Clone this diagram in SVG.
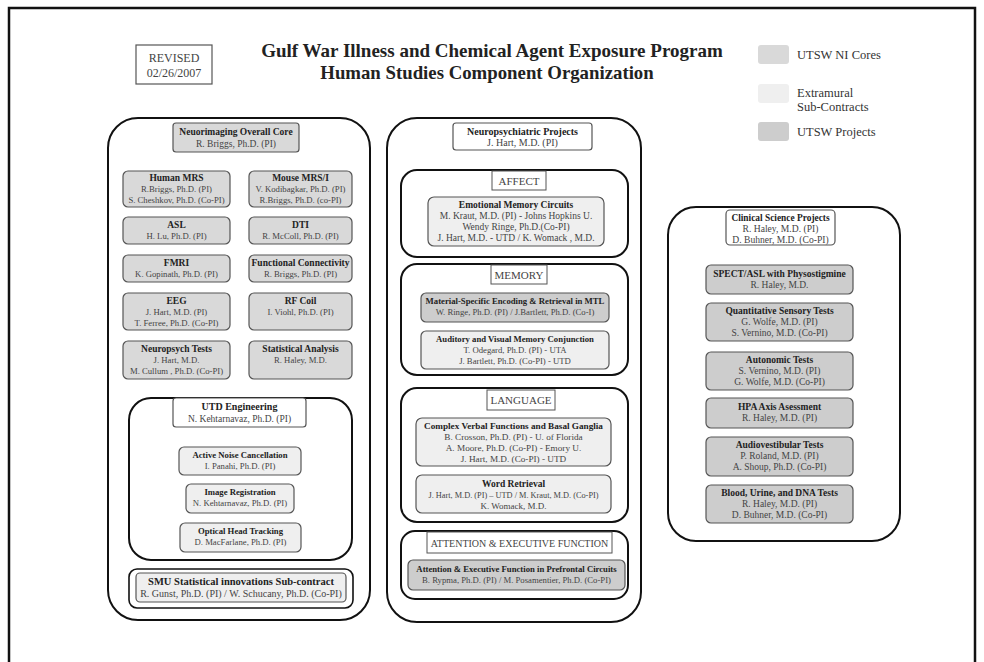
<svg xmlns="http://www.w3.org/2000/svg" width="984" height="662" viewBox="0 0 984 662">
<style>
text{font-family:"Liberation Serif","Times New Roman",serif;text-anchor:middle;}
.t{font-size:9.5px;font-weight:bold;fill:#222;}
.n{font-size:9.5px;fill:#444;}
.s .t,.s .n{font-size:8.7px;}
.sn .n{font-size:8.7px;}
.panel{fill:none;stroke:#111;stroke-width:2;}
.box{stroke:#555;stroke-width:1.2;}
.core{fill:#d9d9d9;}
.ext{fill:#efefef;}
.proj{fill:#cdcdcd;}
.wh{fill:#fff;}
.lbl{font-size:11px;fill:#444;}
.leg{font-size:12.5px;fill:#333;text-anchor:start;}
</style>
<rect x="0" y="0" width="984" height="662" fill="#fff"/>
<rect x="9" y="8" width="966" height="670" fill="none" stroke="#111" stroke-width="2.5"/>

<g id="revised">
<rect x="136" y="45" width="76" height="39" fill="#fff" stroke="#555" stroke-width="1.2"/>
<text x="174" y="62" style="font-size:12px;fill:#444">REVISED</text>
<text x="174" y="77" style="font-size:12px;fill:#444">02/26/2007</text>
</g>
<g id="title">
<text x="492" y="57" style="font-size:19px;font-weight:bold;fill:#222">Gulf War Illness and Chemical Agent Exposure Program</text>
<text x="487" y="79" style="font-size:18.8px;font-weight:bold;fill:#222">Human Studies Component Organization</text>
</g>
<g id="legend">
<rect x="758" y="45" width="31" height="19" rx="3" fill="#d9d9d9"/>
<text class="leg" x="797" y="59">UTSW  NI Cores</text>
<rect x="758" y="84" width="31" height="19" rx="3" fill="#efefef"/>
<text class="leg" x="797" y="97">Extramural</text>
<text class="leg" x="797" y="111">Sub-Contracts</text>
<rect x="758" y="122" width="31" height="19" rx="3" fill="#cdcdcd"/>
<text class="leg" x="797" y="136">UTSW Projects</text>
</g>

<!-- Left panel -->
<g id="neuroimaging">
<rect class="panel" x="108" y="118" width="262" height="502" rx="30"/>
<rect class="box core" x="173" y="123" width="126" height="29" rx="3"/>
<text class="t" x="236" y="135">Neuorimaging Overall Core</text>
<text class="n" x="236" y="147">R. Briggs, Ph.D. (PI)</text>
</g>
<g id="human-mrs" class="sn">
<rect class="box core" x="123" y="171" width="107" height="36" rx="5"/>
<text class="t" x="176.5" y="181">Human MRS</text>
<text class="n" x="176.5" y="192">R.Briggs, Ph.D. (PI)</text>
<text class="n" x="176.5" y="203">S. Cheshkov, Ph.D. (Co-PI)</text>
</g>
<g id="mouse-mrs" class="sn">
<rect class="box core" x="249" y="171" width="103" height="36" rx="5"/>
<text class="t" x="300.5" y="181">Mouse MRS/I</text>
<text class="n" x="300.5" y="192">V. Kodibagkar, Ph.D. (PI)</text>
<text class="n" x="300.5" y="203">R.Briggs, Ph.D. (co-PI)</text>
</g>
<g id="asl" class="sn">
<rect class="box core" x="123" y="217" width="107" height="27" rx="5"/>
<text class="t" x="176.5" y="228">ASL</text>
<text class="n" x="176.5" y="239">H. Lu, Ph.D. (PI)</text>
</g>
<g id="dti" class="sn">
<rect class="box core" x="249" y="217" width="103" height="27" rx="5"/>
<text class="t" x="300.5" y="228">DTI</text>
<text class="n" x="300.5" y="239">R. McColl, Ph.D. (PI)</text>
</g>
<g id="fmri" class="sn">
<rect class="box core" x="123" y="255" width="107" height="27" rx="5"/>
<text class="t" x="176.5" y="266">FMRI</text>
<text class="n" x="176.5" y="277">K. Gopinath, Ph.D. (PI)</text>
</g>
<g id="func-conn" class="sn">
<rect class="box core" x="249" y="255" width="103" height="27" rx="5"/>
<text class="t" x="300.5" y="266">Functional Connectivity</text>
<text class="n" x="300.5" y="277">R. Briggs, Ph.D. (PI)</text>
</g>
<g id="eeg" class="sn">
<rect class="box core" x="123" y="293" width="107" height="37" rx="5"/>
<text class="t" x="176.5" y="304">EEG</text>
<text class="n" x="176.5" y="315">J. Hart, M.D. (PI)</text>
<text class="n" x="176.5" y="326">T. Ferree, Ph.D. (Co-PI)</text>
</g>
<g id="rf-coil" class="sn">
<rect class="box core" x="249" y="293" width="103" height="37" rx="5"/>
<text class="t" x="300.5" y="304">RF Coil</text>
<text class="n" x="300.5" y="315">I. Viohl, Ph.D. (PI)</text>
</g>
<g id="neuropsych" class="sn">
<rect class="box core" x="123" y="341" width="107" height="38" rx="5"/>
<text class="t" x="176.5" y="352">Neuropsych Tests</text>
<text class="n" x="176.5" y="363">J. Hart, M.D.</text>
<text class="n" x="176.5" y="374">M. Cullum , Ph.D. (Co-PI)</text>
</g>
<g id="stat" class="sn">
<rect class="box core" x="249" y="341" width="103" height="38" rx="5"/>
<text class="t" x="300.5" y="352">Statistical Analysis</text>
<text class="n" x="300.5" y="363">R. Haley, M.D.</text>
</g>
<g id="utd">
<rect class="panel" x="129" y="398" width="223" height="162" rx="22"/>
<rect class="box wh" x="173" y="398" width="133" height="29" rx="3"/>
<text class="t" x="239.5" y="410" style="font-size:10px">UTD Engineering</text>
<text class="n" x="239.5" y="422" style="font-size:9.5px">N. Kehtarnavaz, Ph.D. (PI)</text>
</g>
<g id="anc" class="s">
<rect class="box ext" x="179" y="447" width="122" height="28" rx="5"/>
<text class="t" x="240" y="458">Active Noise Cancellation</text>
<text class="n" x="240" y="469">I. Panahi, Ph.D. (PI)</text>
</g>
<g id="imgreg" class="s">
<rect class="box ext" x="186" y="484" width="108" height="29" rx="5"/>
<text class="t" x="240" y="495">Image Registration</text>
<text class="n" x="240" y="506">N. Kehtarnavaz, Ph.D. (PI)</text>
</g>
<g id="oht" class="s">
<rect class="box ext" x="180" y="523" width="121" height="29" rx="5"/>
<text class="t" x="240.5" y="534">Optical Head Tracking</text>
<text class="n" x="240.5" y="545">D. MacFarlane, Ph.D. (PI)</text>
</g>
<g id="smu">
<rect class="panel" x="129" y="569" width="224" height="39" rx="8" style="stroke-width:1.6"/>
<rect class="box ext" x="136" y="573" width="210" height="29" rx="4"/>
<text class="t" x="241" y="585" style="font-size:10.5px">SMU Statistical innovations Sub-contract</text>
<text class="n" x="241" y="597" style="font-size:10px">R. Gunst, Ph.D. (PI) / W. Schucany, Ph.D. (Co-PI)</text>
</g>

<!-- Middle panel -->
<g id="neuropsychiatric">
<rect class="panel" x="387" y="118" width="254" height="504" rx="30"/>
<rect class="box wh" x="453" y="123" width="139" height="27" rx="3"/>
<text class="t" x="522.5" y="135" style="font-size:10px">Neuropsychiatric Projects</text>
<text class="n" x="522.5" y="146" style="font-size:10px">J. Hart, M.D. (PI)</text>
</g>
<g id="affect">
<rect class="panel" x="401" y="170" width="227" height="87" rx="16"/>
<rect x="492" y="171" width="54" height="19" fill="#fff" stroke="#555" stroke-width="1"/>
<text class="lbl" x="519" y="185">AFFECT</text>
</g>
<g id="emotional">
<rect class="box ext" x="428" y="197" width="176" height="49" rx="6"/>
<text class="t" x="516" y="208">Emotional Memory Circuits</text>
<text class="n" x="516" y="219">M. Kraut, M.D. (PI) - Johns Hopkins U.</text>
<text class="n" x="516" y="230">Wendy Ringe, Ph.D.(Co-PI)</text>
<text class="n" x="516" y="241">J. Hart, M.D. - UTD / K. Womack ,  M.D.</text>
</g>
<g id="memory">
<rect class="panel" x="401" y="264" width="227" height="111" rx="16"/>
<rect x="491" y="265" width="56" height="19" fill="#fff" stroke="#555" stroke-width="1"/>
<text class="lbl" x="519" y="279">MEMORY</text>
</g>
<g id="material" class="s">
<rect class="box proj" x="421" y="293" width="188" height="29" rx="5"/>
<text class="t" x="515" y="304">Material-Specific Encoding &amp; Retrieval in MTL</text>
<text class="n" x="515" y="315">W. Ringe, Ph.D. (PI) / J.Bartlett, Ph.D. (Co-I)</text>
</g>
<g id="auditory" class="s">
<rect class="box ext" x="421" y="331" width="188" height="38" rx="5"/>
<text class="t" x="515" y="342">Auditory and Visual Memory Conjunction</text>
<text class="n" x="515" y="353">T. Odegard, Ph.D. (PI) - UTA</text>
<text class="n" x="515" y="364">J. Bartlett, Ph.D. (Co-PI) - UTD</text>
</g>
<g id="language">
<rect class="panel" x="401" y="388" width="227" height="134" rx="16"/>
<rect x="487" y="390" width="68" height="20" fill="#fff" stroke="#555" stroke-width="1"/>
<text class="lbl" x="521" y="404">LANGUAGE</text>
</g>
<g id="complex">
<rect class="box ext" x="416" y="418" width="195" height="48" rx="6"/>
<text class="t" x="513.5" y="429" style="font-size:9.2px">Complex Verbal Functions and Basal Ganglia</text>
<text class="n" x="513.5" y="440" style="font-size:9.2px">B. Crosson, Ph.D. (PI) - U. of Florida</text>
<text class="n" x="513.5" y="451" style="font-size:9.2px">A. Moore, Ph.D. (Co-PI) - Emory U.</text>
<text class="n" x="513.5" y="462" style="font-size:9.2px">J. Hart, M.D. (Co-PI) - UTD</text>
</g>
<g id="word">
<rect class="box ext" x="416" y="475" width="195" height="38" rx="6"/>
<text class="t" x="513.5" y="487">Word Retrieval</text>
<text class="n" x="513.5" y="498" style="font-size:8.3px">J. Hart, M.D. (PI) – UTD / M. Kraut, M.D. (Co-PI)</text>
<text class="n" x="513.5" y="509" style="font-size:9px">K. Womack, M.D.</text>
</g>
<g id="attention">
<rect class="panel" x="401" y="531" width="227" height="68" rx="14"/>
<rect x="427" y="532" width="185" height="21" fill="#fff" stroke="#555" stroke-width="1"/>
<text class="lbl" x="519.5" y="547" style="font-size:10px">ATTENTION &amp; EXECUTIVE FUNCTION</text>
</g>
<g id="prefrontal" class="s">
<rect class="box proj" x="408" y="560" width="217" height="30" rx="5"/>
<text class="t" x="516.5" y="572">Attention &amp; Executive Function in Prefrontal Circuits</text>
<text class="n" x="516.5" y="583">B. Rypma, Ph.D. (PI) / M. Posamentier, Ph.D.  (Co-PI)</text>
</g>

<!-- Right panel -->
<g id="clinical">
<rect class="panel" x="668" y="207" width="232" height="334" rx="28"/>
<rect class="box wh" x="726" y="210" width="109" height="35" rx="4"/>
<text class="t" x="780.5" y="221" style="font-size:9.4px">Clinical Science Projects</text>
<text class="n" x="780.5" y="232" style="font-size:9.6px">R. Haley, M.D. (PI)</text>
<text class="n" x="780.5" y="243" style="font-size:9.6px">D. Buhner, M.D. (Co-PI)</text>
</g>
<g id="spect">
<rect class="box proj" x="706" y="265" width="147" height="29" rx="5"/>
<text class="t" x="779.5" y="277">SPECT/ASL with Physostigmine</text>
<text class="n" x="779.5" y="288">R. Haley, M.D.</text>
</g>
<g id="qst">
<rect class="box proj" x="706" y="303" width="147" height="38" rx="5"/>
<text class="t" x="779.5" y="314">Quantitative Sensory Tests</text>
<text class="n" x="779.5" y="325">G. Wolfe,  M.D. (PI)</text>
<text class="n" x="779.5" y="336">S. Vernino, M.D. (Co-PI)</text>
</g>
<g id="autonomic">
<rect class="box proj" x="706" y="352" width="147" height="38" rx="5"/>
<text class="t" x="779.5" y="363">Autonomic Tests</text>
<text class="n" x="779.5" y="374">S. Vernino, M.D. (PI)</text>
<text class="n" x="779.5" y="385">G. Wolfe, M.D. (Co-PI)</text>
</g>
<g id="hpa">
<rect class="box proj" x="706" y="398" width="147" height="30" rx="5"/>
<text class="t" x="779.5" y="410">HPA Axis Asessment</text>
<text class="n" x="779.5" y="421">R. Haley,  M.D. (PI)</text>
</g>
<g id="audio">
<rect class="box proj" x="706" y="437" width="147" height="39" rx="5"/>
<text class="t" x="779.5" y="448">Audiovestibular Tests</text>
<text class="n" x="779.5" y="459">P. Roland,  M.D. (PI)</text>
<text class="n" x="779.5" y="470">A. Shoup, Ph.D. (Co-PI)</text>
</g>
<g id="blood">
<rect class="box proj" x="706" y="485" width="147" height="38" rx="5"/>
<text class="t" x="779.5" y="496">Blood, Urine, and DNA Tests</text>
<text class="n" x="779.5" y="507">R. Haley,  M.D. (PI)</text>
<text class="n" x="779.5" y="518">D. Buhner, M.D. (Co-PI)</text>
</g>
<g id="connectors"></g>
</svg>
